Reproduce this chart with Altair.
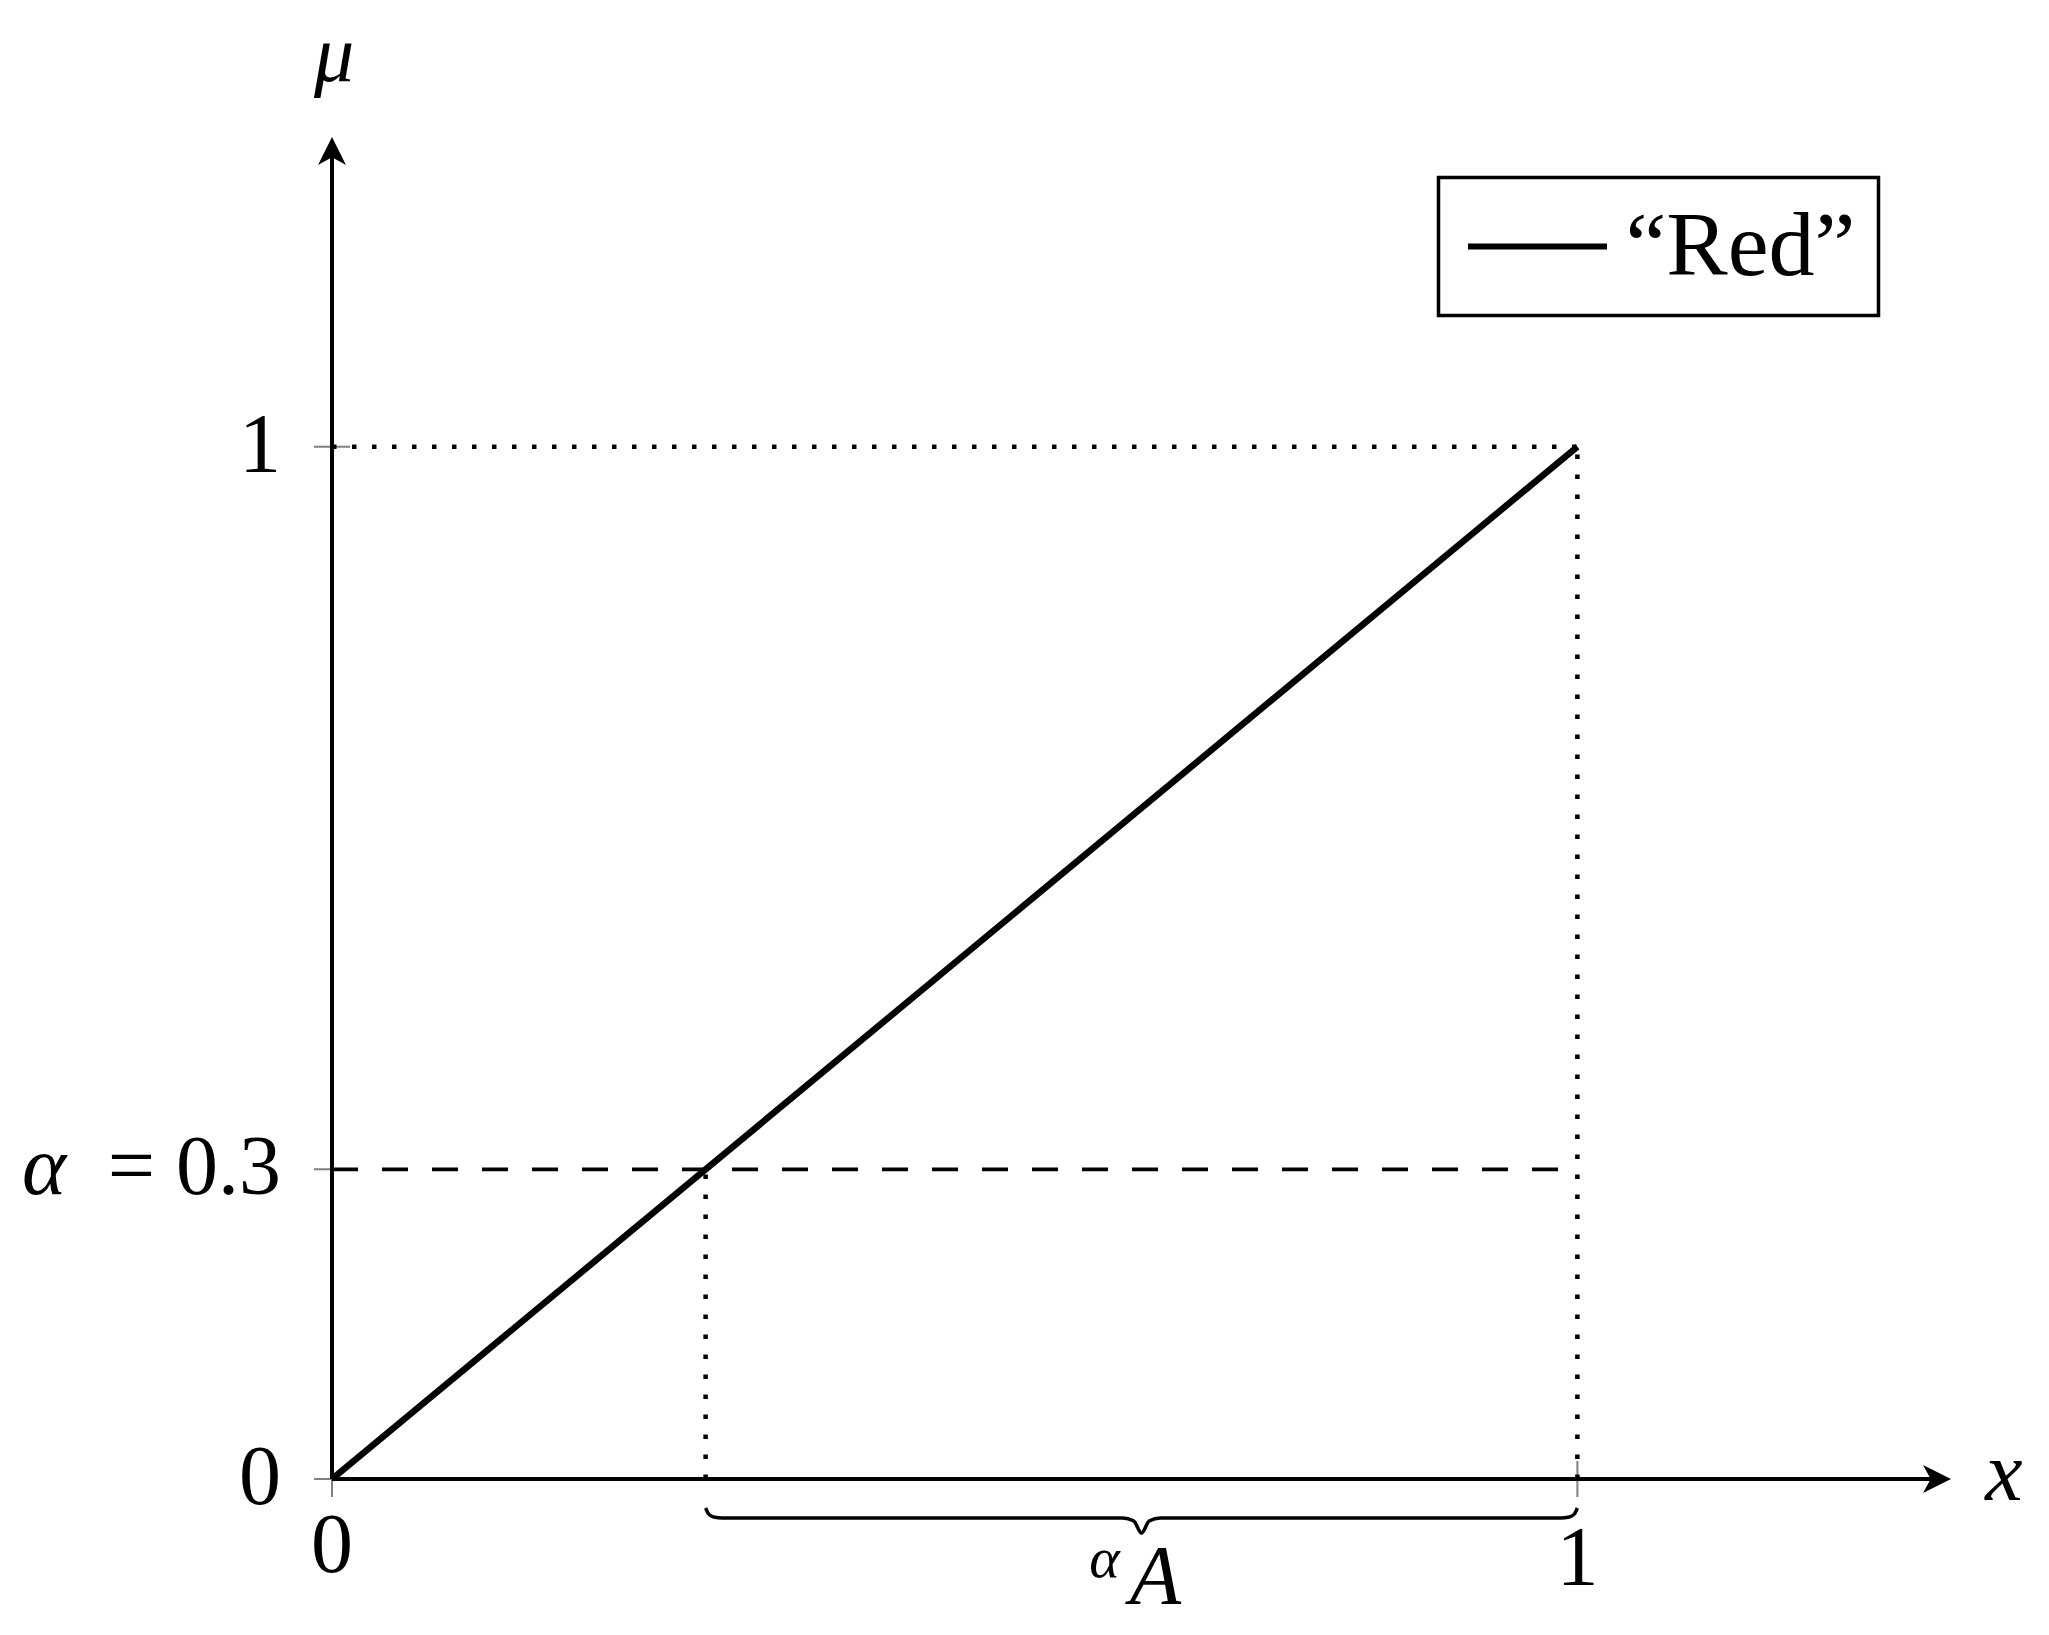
import altair as alt
import pandas as pd

# ---------------- data ----------------
series_name = "“Red”"
line_x = [0.0, 1.0]
line_y = [0.0, 1.0]
alpha_cut = 0.3
x_ticks = [0.0, 1.0]
x_tick_labels = ["0", "1"]
y_ticks = [0.0, 0.3, 1.0]
y_tick_labels = ["0", "= 0.3", "1"]
axis_end = 1.3
x_axis_title = "x"
y_axis_title = "μ"
brace_label_sup = "α"
brace_label = "A"
brace_x = [0.300, 0.3024, 0.3064, 0.3137, 0.6349, 0.6438, 0.650, 0.6562, 0.6651, 0.9863, 0.9936, 0.9976, 1.000]
brace_y = [-0.0281, -0.0339, -0.0368, -0.0378, -0.0378, -0.0407, -0.0523, -0.0407, -0.0378, -0.0378, -0.0368, -0.0339, -0.0281]

# ---------------- style ----------------
W, H = 1619, 1342
FONT = "Liberation Serif"
FS = 84
xs = alt.Scale(domain=[0, axis_end], nice=False, zero=False)
ys = alt.Scale(domain=[0, axis_end], nice=False, zero=False)


def X(f):
    return alt.X(f, type="quantitative", scale=xs, axis=None)


def Y(f):
    return alt.Y(f, type="quantitative", scale=ys, axis=None)


# ticks
tx = alt.Chart(pd.DataFrame({"x": x_ticks, "y": [0.0] * len(x_ticks)})).mark_tick(
    orient="vertical", size=36, thickness=2, color="#808080", opacity=1
).encode(x=X("x"), y=Y("y"))
ty = alt.Chart(pd.DataFrame({"x": [0.0] * len(y_ticks), "y": y_ticks})).mark_tick(
    orient="horizontal", size=36, thickness=2, color="#808080", opacity=1
).encode(x=X("x"), y=Y("y"))

# dotted guide lines
dotted_df = pd.DataFrame({
    "x": [line_x[0], line_x[1], alpha_cut],
    "y": [line_y[1], 0.0, 0.0],
    "x2": [line_x[1], line_x[1], alpha_cut],
    "y2": [line_y[1], line_y[1], alpha_cut],
})
dotted = alt.Chart(dotted_df).mark_rule(strokeDash=[4.5, 15.5], strokeWidth=4.5, color="black").encode(
    x=X("x"), y=Y("y"), x2="x2:Q", y2="y2:Q"
)

# dashed alpha-cut line
dashed_df = pd.DataFrame({"x": [0.0], "x2": [line_x[1]], "y": [alpha_cut]})
dashed = alt.Chart(dashed_df).mark_rule(strokeDash=[26, 24], strokeWidth=3.8, color="black").encode(
    x=X("x"), x2="x2:Q", y=Y("y")
)

# axes lines
axes_df = pd.DataFrame({"x": [0.0, 0.0], "y": [0.0, 0.0], "x2": [axis_end - 0.01, 0.0], "y2": [0.0, axis_end - 0.01]})
axes = alt.Chart(axes_df).mark_rule(strokeWidth=4, color="black").encode(
    x=X("x"), y=Y("y"), x2="x2:Q", y2="y2:Q"
)

# arrow heads
arrow_r = alt.Chart(pd.DataFrame({"x": [axis_end], "y": [0.0]})).mark_point(
    shape="M0,0L-2,-1L-1.45,0L-2,1Z", size=784, filled=True, color="black", opacity=1, strokeWidth=0
).encode(x=X("x"), y=Y("y"))
arrow_u = alt.Chart(pd.DataFrame({"x": [0.0], "y": [axis_end]})).mark_point(
    shape="M0,0L-1,2L0,1.45L1,2Z", size=784, filled=True, color="black", opacity=1, strokeWidth=0
).encode(x=X("x"), y=Y("y"))

# main membership line
main_df = pd.DataFrame({"x": line_x, "y": line_y, "series": [series_name] * len(line_x)})
main = alt.Chart(main_df).mark_line(strokeWidth=6.5).encode(
    x=X("x"),
    y=Y("y"),
    color=alt.Color(
        "series:N",
        scale=alt.Scale(range=["black"]),
        legend=alt.Legend(
            orient="none",
            legendX=1106.5,
            legendY=40.5,
            title=None,
            padding=23,
            strokeColor="black",
            fillColor="white",
            cornerRadius=0,
            symbolType="M-2,0H2",
            symbolSize=4830,
            symbolStrokeWidth=6,
            symbolStrokeColor="black",
            symbolOffset=30,
            labelOffset=42,
            labelFont=FONT,
            labelFontSize=92,
            labelColor="black",
            labelLimit=500,
        ),
    ),
)

# brace
brace = alt.Chart(pd.DataFrame({"x": brace_x, "y": brace_y})).mark_line(
    strokeWidth=3.5, color="black", interpolate="monotone"
).encode(x=X("x"), y=Y("y"))

# tick labels
ylab = alt.Chart(pd.DataFrame({"x": [0.0] * len(y_ticks), "y": y_ticks, "t": y_tick_labels})).mark_text(
    font=FONT, fontSize=FS, align="right", baseline="middle", dx=-51, color="black"
).encode(x=X("x"), y=Y("y"), text="t:N")
ylab_alpha = alt.Chart(pd.DataFrame({"x": [0.0], "y": [alpha_cut], "t": ["α"]})).mark_text(
    font=FONT, fontSize=FS, fontStyle="italic", align="right", baseline="middle", dx=-266, color="black"
).encode(x=X("x"), y=Y("y"), text="t:N")
xlab0 = alt.Chart(pd.DataFrame({"x": x_ticks[:1], "y": [0.0], "t": x_tick_labels[:1]})).mark_text(
    font=FONT, fontSize=FS, align="center", baseline="alphabetic", dy=93, color="black"
).encode(x=X("x"), y=Y("y"), text="t:N")
xlab1 = alt.Chart(pd.DataFrame({"x": x_ticks[1:], "y": [0.0], "t": x_tick_labels[1:]})).mark_text(
    font=FONT, fontSize=FS, align="center", baseline="alphabetic", dy=106, color="black"
).encode(x=X("x"), y=Y("y"), text="t:N")

# axis titles
xtitle = alt.Chart(pd.DataFrame({"x": [axis_end], "y": [0.0], "t": [x_axis_title]})).mark_text(
    font=FONT, fontSize=FS, fontStyle="italic", align="center", baseline="alphabetic", dx=53, dy=21, color="black"
).encode(x=X("x"), y=Y("y"), text="t:N")
ytitle = alt.Chart(pd.DataFrame({"x": [0.0], "y": [axis_end], "t": [y_axis_title]})).mark_text(
    font=FONT, fontSize=80, fontStyle="italic", align="center", baseline="alphabetic", dx=2, dy=-56, color="black"
).encode(x=X("x"), y=Y("y"), text="t:N")

# brace labels
mid = (alpha_cut + line_x[1]) / 2
blab = alt.Chart(pd.DataFrame({"x": [mid], "y": [0.0], "t": [brace_label]})).mark_text(
    font=FONT, fontSize=FS, fontStyle="italic", align="center", baseline="alphabetic", dx=14, dy=125, color="black"
).encode(x=X("x"), y=Y("y"), text="t:N")
blab_sup = alt.Chart(pd.DataFrame({"x": [mid], "y": [0.0], "t": [brace_label_sup]})).mark_text(
    font=FONT, fontSize=58, fontStyle="italic", align="center", baseline="alphabetic", dx=-37, dy=98, color="black"
).encode(x=X("x"), y=Y("y"), text="t:N")

chart = alt.layer(
    tx, ty, dotted, dashed, axes, arrow_r, arrow_u, brace, main,
    ylab, ylab_alpha, xlab0, xlab1, xtitle, ytitle, blab, blab_sup,
).properties(
    width=W,
    height=H,
    autosize=alt.AutoSizeParams(type="none"),
    padding={"left": 324, "top": 129, "right": 80, "bottom": 146},
).configure_view(stroke=None).configure_legend(strokeWidth=3.5)

chart.save("out.html", embed_options={"renderer": "svg", "actions": False})
